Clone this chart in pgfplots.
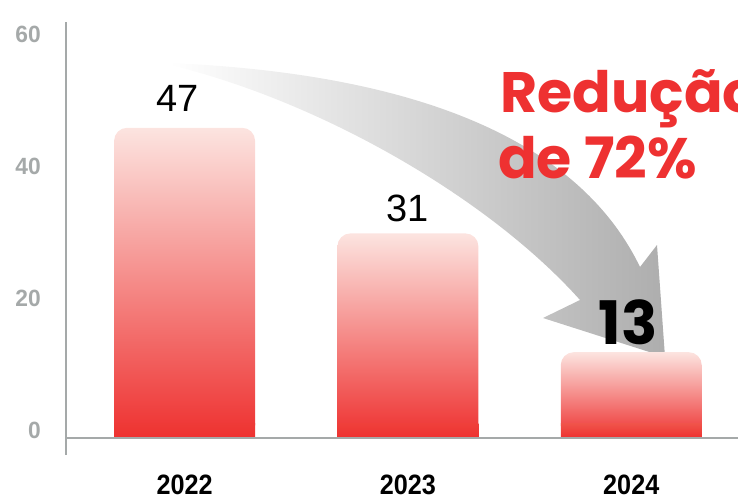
\documentclass[border=0pt]{standalone}
\usepackage{pgfplots}
\pgfplotsset{compat=1.18}
\usepackage{fontspec}
\setmainfont{Liberation Sans}
\newfontfamily\pop{Poppins}
\newfontfamily\din{Liberation Sans}[FakeStretch=0.9]
\newfontfamily\dinb{Liberation Sans}[FakeStretch=0.97]
\definecolor{barTop}{HTML}{FCE4E0}
\definecolor{barMid}{HTML}{F3967D}
\definecolor{barBot}{HTML}{EE3130}
\definecolor{axgray}{HTML}{A5A9A9}
\definecolor{redtxt}{HTML}{EE3131}
\begin{document}
\begin{tikzpicture}[x=1pt,y=1pt]
\useasboundingbox (-66,-44) rectangle (672,455);
\clip (-66,-44) rectangle (672,455);
% decorative arrow
\shade[left color=white, right color=black!32]
  (104,392) .. controls (380,380) and (520,300) .. (574,188)
  -- (591,210) -- (599,98) -- (477,137) -- (514,155)
  .. controls (420,260) and (250,355) .. (104,390)
  -- cycle;
\begin{axis}[
  at={(0,0)}, anchor=south west,
  scale only axis, width=672pt, height=433pt,
  xmin=-0.531, xmax=2.478, ymin=-2.58, ymax=63.03,
  enlargelimits=false,
  axis x line=bottom, axis y line=left,
  x axis line style={draw=none},
  y axis line style={-, draw=axgray, line width=2.6pt},
  major tick length=0pt,
  xtick={0,1,2}, xticklabels={2022,2023,2024},
  ytick={0,20,40,60},
  /pgf/number format/assume math mode=true,
  yticklabel style={font=\dinb\bfseries\fontsize{23.5}{23.5}\selectfont, text=axgray, anchor=east, inner sep=0pt, xshift=-25pt, yshift=8pt},
  xticklabel style={font=\din\bfseries\fontsize{28}{28}\selectfont, text=black, anchor=base, inner sep=0pt, yshift=-39pt},
  clip=false,
]
% main bars
\addplot[ybar, bar width=141pt, bar shift=0pt, draw=none, rounded corners=13pt,
  top color=barTop, middle color=barMid, bottom color=barBot,
  nodes near coords, point meta=y,
  every node near coord/.append style={font=\fontsize{38}{38}\selectfont, text=black, anchor=south, inner sep=0pt, yshift=16pt, xshift=-7pt}]
  coordinates {(0,47)};
\addplot[ybar, bar width=141pt, bar shift=0pt, draw=none, rounded corners=13pt,
  top color=barTop, middle color=barMid, bottom color=barBot,
  nodes near coords, point meta=y,
  every node near coord/.append style={font=\fontsize{38}{38}\selectfont, text=black, anchor=south, inner sep=0pt, yshift=11pt}]
  coordinates {(1,31)};
\addplot[ybar, bar width=141pt, bar shift=0pt, draw=none, rounded corners=13pt,
  top color=barTop, middle color=barMid, bottom color=barBot,
  nodes near coords, point meta=y,
  every node near coord/.append style={font=\pop\bfseries\fontsize{60}{60}\selectfont, text=black, anchor=south, inner sep=0pt, yshift=7pt, xshift=-3pt}]
  coordinates {(2,13)};
% square bottoms of the bars
\addplot[ybar, bar width=141pt, bar shift=0pt, draw=none, sharp corners,
  top color=barMid!9!barBot, bottom color=barBot] coordinates {(0,2.2)};
\addplot[ybar, bar width=141pt, bar shift=0pt, draw=none, sharp corners,
  top color=barMid!14!barBot, bottom color=barBot] coordinates {(1,2.2)};
\addplot[ybar, bar width=141pt, bar shift=0pt, draw=none, sharp corners,
  top color=barMid!34!barBot, bottom color=barBot] coordinates {(2,2.2)};
\draw[axgray, line width=2.4pt] (axis cs:-0.531,0) -- (axis cs:2.478,0);
\end{axis}
\node[anchor=base west, inner sep=0pt, font=\pop\bfseries\fontsize{57}{57}\selectfont, text=redtxt] at (434,342) {Redução};
\node[anchor=base west, inner sep=0pt, font=\pop\bfseries\fontsize{57}{57}\selectfont, text=redtxt] at (432,277) {de 72\%};
\end{tikzpicture}
\end{document}
